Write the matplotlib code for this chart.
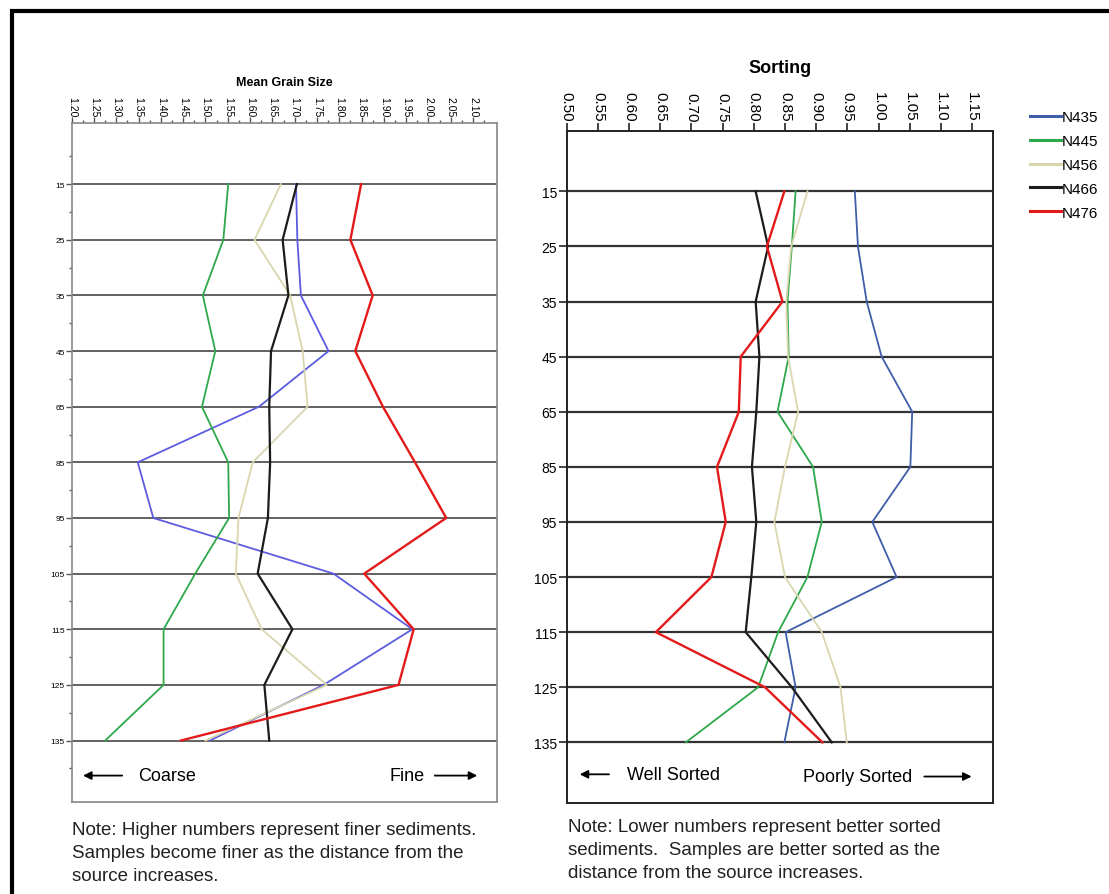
import numpy as np
import matplotlib
matplotlib.use('Agg')
import matplotlib.pyplot as plt
from matplotlib.patches import Rectangle

plt.rcParams['font.family'] = ['Liberation Sans', 'DejaVu Sans']

# distance from source (sample rows) and sample series
distances = ['15', '25', '35', '45', '65', '85', '95', '105', '115', '125', '135']
samples = ['N435', 'N445', 'N456', 'N466', 'N476']

# mean grain size per sample
grain_N435 = [1.703, 1.706, 1.714, 1.776, 1.620, 1.348, 1.383, 1.787, 1.964, 1.765, 1.510]
grain_N445 = [1.551, 1.540, 1.494, 1.522, 1.492, 1.551, 1.553, 1.477, 1.406, 1.406, 1.275]
grain_N456 = [1.669, 1.610, 1.690, 1.718, 1.729, 1.606, 1.574, 1.568, 1.626, 1.772, 1.500]
grain_N466 = [1.705, 1.673, 1.686, 1.647, 1.643, 1.645, 1.640, 1.617, 1.695, 1.632, 1.643]
grain_N476 = [1.849, 1.825, 1.875, 1.836, 1.898, 1.970, 2.040, 1.856, 1.967, 1.933, 1.445]

# sorting per sample
sort_N435 = [0.962, 0.967, 0.981, 1.005, 1.054, 1.051, 0.990, 1.029, 0.851, 0.867, 0.849]
sort_N445 = [0.867, 0.861, 0.854, 0.856, 0.838, 0.895, 0.909, 0.886, 0.839, 0.807, 0.691]
sort_N456 = [0.886, 0.860, 0.852, 0.855, 0.871, 0.850, 0.833, 0.850, 0.909, 0.939, 0.949]
sort_N466 = [0.803, 0.823, 0.803, 0.809, 0.804, 0.797, 0.804, 0.796, 0.787, 0.861, 0.925]
sort_N476 = [0.849, 0.821, 0.846, 0.779, 0.776, 0.741, 0.755, 0.732, 0.643, 0.818, 0.910]

grain_ticks = np.arange(1.20, 2.101, 0.05)
sort_ticks = np.arange(0.50, 1.151, 0.05)

colors_left = ['#5c5ce0', '#2ea84a', '#d9d6ae', '#1c1c1c', '#e41a1a']
colors_right = ['#3f5daa', '#2ea84a', '#d9d6ae', '#1c1c1c', '#e41a1a']
widths = [1.3, 1.3, 1.3, 1.6, 1.7]

pos = np.arange(len(distances))

fig = plt.figure(figsize=(11.09, 8.95), dpi=100)

# outer frame
fig.patches.append(Rectangle((12/1109, -0.2), 1.2, 1 - 12/895 + 0.2, transform=fig.transFigure,
                             fill=False, edgecolor='black', lw=3, clip_on=False))

# ---------- Mean grain size ----------
ax1 = fig.add_axes([0.0647, 0.1031, 0.3835, 0.7584])
for vals, c, w in zip([grain_N435, grain_N445, grain_N456, grain_N466, grain_N476], colors_left, widths):
    ax1.plot(vals, pos, color=c, lw=w, zorder=3)
ax1.set_xlim(1.20, 2.154)
ax1.set_ylim(11.1, -1.1)
ax1.xaxis.tick_top()
ax1.set_xticks(grain_ticks)
ax1.set_xticklabels(['%.2f' % t for t in grain_ticks], rotation=-90, fontsize=7.5)
ax1.set_xticks(np.arange(1.225, 2.15, 0.05), minor=True)
ax1.set_yticks(pos)
ax1.set_yticklabels(distances, fontsize=6)
ax1.set_yticks(np.arange(-0.5, 11, 1.0), minor=True)
ax1.tick_params(axis='both', which='major', length=4, width=1, color='#555', pad=1)
ax1.tick_params(axis='both', which='minor', length=2, width=1, color='#555')
for y in pos:
    ax1.axhline(y, color='#555555', lw=1.3, zorder=1)
for s in ax1.spines.values():
    s.set_color('#888888')
    s.set_linewidth(1.2)
ax1.set_title('Mean Grain Size', fontsize=9, fontweight='bold', pad=27)

ax1.annotate('', xy=(0.02, 10.63), xytext=(0.125, 10.63), xycoords=('axes fraction', 'data'),
             arrowprops=dict(arrowstyle='-|>', color='black', lw=1.3, mutation_scale=12))
ax1.text(0.156, 10.63, 'Coarse', transform=ax1.get_yaxis_transform(), fontsize=13, va='center')
ax1.text(0.83, 10.63, 'Fine', transform=ax1.get_yaxis_transform(), fontsize=13, va='center', ha='right')
ax1.annotate('', xy=(0.96, 10.63), xytext=(0.847, 10.63), xycoords=('axes fraction', 'data'),
             arrowprops=dict(arrowstyle='-|>', color='black', lw=1.3, mutation_scale=12))

# ---------- Sorting ----------
ax2 = fig.add_axes([0.5110, 0.1017, 0.3841, 0.7511])
lines = []
for vals, c, w, name in zip([sort_N435, sort_N445, sort_N456, sort_N466, sort_N476], colors_right, widths, samples):
    ln, = ax2.plot(vals, pos, color=c, lw=w, zorder=3, label=name)
    lines.append(ln)
ax2.set_xlim(0.50, 1.183)
ax2.set_ylim(11.1, -1.1)
ax2.xaxis.tick_top()
ax2.set_xticks(sort_ticks)
ax2.set_xticklabels(['%.2f' % t for t in sort_ticks], rotation=-90, fontsize=11)
ax2.set_yticks(pos)
ax2.set_yticklabels(distances, fontsize=10)
ax2.tick_params(axis='both', which='major', length=6, width=1.2, color='#222', pad=1)
for y in pos:
    ax2.axhline(y, color='#333333', lw=1.6, zorder=1)
for s in ax2.spines.values():
    s.set_color('#222222')
    s.set_linewidth(1.4)
ax2.set_title('Sorting', fontsize=13, fontweight='bold', pad=42)

ax2.annotate('', xy=(0.024, 10.58), xytext=(0.106, 10.58), xycoords=('axes fraction', 'data'),
             arrowprops=dict(arrowstyle='-|>', color='black', lw=1.3, mutation_scale=12))
ax2.text(0.1415, 10.58, 'Well Sorted', transform=ax2.get_yaxis_transform(), fontsize=13, va='center')
ax2.text(0.811, 10.62, 'Poorly Sorted', transform=ax2.get_yaxis_transform(), fontsize=13, va='center', ha='right')
ax2.annotate('', xy=(0.957, 10.62), xytext=(0.833, 10.62), xycoords=('axes fraction', 'data'),
             arrowprops=dict(arrowstyle='-|>', color='black', lw=1.3, mutation_scale=12))

# legend on the right
leg = fig.legend(handles=lines, loc='upper left', bbox_to_anchor=(1030/1109, 1 - 111/895),
                 frameon=False, fontsize=11, handlelength=2.0, handletextpad=0.1, labelspacing=0.65,
                 borderpad=0, borderaxespad=0)
for h in leg.legend_handles:
    h.set_linewidth(2.2)

# notes under each panel
fig.text(72/1109, 1 - 822/895,
         'Note: Higher numbers represent finer sediments.\n'
         'Samples become finer as the distance from the\n'
         'source increases.', fontsize=13.5, va='top', ha='left', linespacing=1.48, color='#222')
fig.text(568/1109, 1 - 819/895,
         'Note: Lower numbers represent better sorted\n'
         'sediments.  Samples are better sorted as the\n'
         'distance from the source increases.', fontsize=13.5, va='top', ha='left', linespacing=1.48, color='#222')

fig.savefig('out.png', dpi=100)
